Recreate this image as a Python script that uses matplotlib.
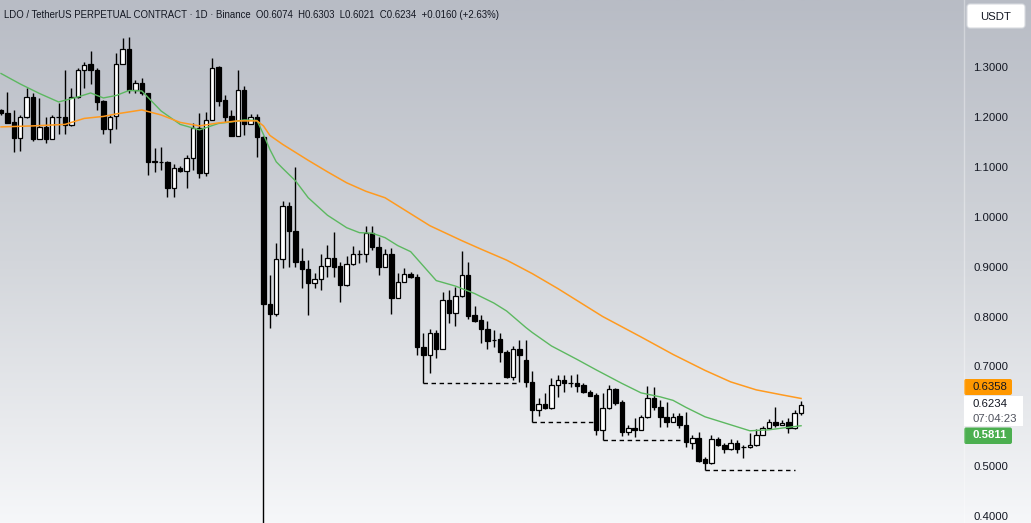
import numpy as np
import matplotlib.pyplot as plt
from matplotlib.colors import LinearSegmentedColormap
from matplotlib.patches import Rectangle, FancyBboxPatch

# Daily candles (USDT)
opens = [1.214, 1.207, 1.190, 1.158, 1.199, 1.239, 1.156, 1.180, 1.156, 1.199,
         1.199, 1.184, 1.239, 1.294, 1.306, 1.295, 1.232, 1.176, 1.202, 1.307,
         1.337, 1.253, 1.267, 1.247, 1.110, 1.109, 1.109, 1.058, 1.098, 1.092,
         1.117, 1.177, 1.087, 1.194, 1.301, 1.234, 1.202, 1.162, 1.254, 1.186,
         1.199, 1.160, 0.826, 0.806, 0.915, 1.021, 0.972, 0.911, 0.895, 0.867,
         0.875, 0.901, 0.917, 0.901, 0.863, 0.905, 0.925, 0.925, 0.968, 0.940,
         0.900, 0.925, 0.838, 0.870, 0.885, 0.880, 0.739, 0.723, 0.766, 0.735,
         0.834, 0.808, 0.841, 0.883, 0.803, 0.793, 0.774, 0.753, 0.754, 0.729,
         0.679, 0.734, 0.713, 0.669, 0.613, 0.625, 0.616, 0.663, 0.673, 0.666,
         0.666, 0.663, 0.648, 0.643, 0.573, 0.616, 0.654, 0.628, 0.569, 0.576,
         0.573, 0.598, 0.636, 0.619, 0.599, 0.589, 0.601, 0.583, 0.547, 0.556,
         0.514, 0.506, 0.554, 0.542, 0.534, 0.547, 0.538, 0.538, 0.542, 0.563,
         0.576, 0.589, 0.583, 0.589, 0.576, 0.6074]
highs = [1.216, 1.250, 1.214, 1.204, 1.257, 1.247, 1.237, 1.200, 1.204, 1.227,
         1.295, 1.257, 1.298, 1.311, 1.333, 1.299, 1.234, 1.204, 1.329, 1.358,
         1.360, 1.274, 1.277, 1.248, 1.137, 1.139, 1.112, 1.106, 1.102, 1.124,
         1.187, 1.208, 1.210, 1.319, 1.302, 1.244, 1.214, 1.294, 1.262, 1.206,
         1.206, 1.162, 0.883, 0.947, 1.032, 1.030, 1.099, 0.937, 0.913, 0.887,
         0.925, 0.943, 0.970, 0.910, 0.921, 0.941, 0.933, 0.981, 0.981, 0.959,
         0.935, 0.937, 0.887, 0.897, 0.889, 0.885, 0.766, 0.774, 0.773, 0.850,
         0.853, 0.860, 0.932, 0.910, 0.821, 0.803, 0.792, 0.773, 0.766, 0.733,
         0.741, 0.753, 0.753, 0.691, 0.636, 0.646, 0.676, 0.683, 0.683, 0.683,
         0.685, 0.666, 0.653, 0.647, 0.646, 0.663, 0.656, 0.633, 0.583, 0.596,
         0.603, 0.661, 0.659, 0.633, 0.629, 0.606, 0.607, 0.609, 0.563, 0.569,
         0.519, 0.563, 0.559, 0.547, 0.554, 0.553, 0.542, 0.567, 0.574, 0.581,
         0.595, 0.618, 0.593, 0.597, 0.613, 0.6303]
lows = [1.204, 1.188, 1.130, 1.132, 1.197, 1.152, 1.155, 1.148, 1.155, 1.166,
        1.166, 1.182, 1.238, 1.257, 1.265, 1.214, 1.166, 1.148, 1.176, 1.306,
        1.248, 1.248, 1.244, 1.084, 1.090, 1.094, 1.040, 1.040, 1.090, 1.058,
        1.094, 1.077, 1.082, 1.193, 1.222, 1.190, 1.161, 1.161, 1.164, 1.185,
        1.119, 0.370, 0.776, 0.801, 0.897, 0.899, 0.899, 0.857, 0.803, 0.857,
        0.853, 0.880, 0.880, 0.830, 0.862, 0.904, 0.908, 0.910, 0.933, 0.883,
        0.899, 0.806, 0.837, 0.869, 0.877, 0.723, 0.667, 0.686, 0.716, 0.734,
        0.788, 0.780, 0.840, 0.796, 0.789, 0.746, 0.734, 0.739, 0.709, 0.676,
        0.673, 0.669, 0.659, 0.588, 0.601, 0.615, 0.615, 0.639, 0.649, 0.658,
        0.649, 0.647, 0.640, 0.563, 0.553, 0.615, 0.623, 0.561, 0.563, 0.558,
        0.572, 0.597, 0.613, 0.578, 0.578, 0.588, 0.577, 0.539, 0.534, 0.508,
        0.492, 0.505, 0.540, 0.527, 0.533, 0.526, 0.516, 0.537, 0.541, 0.562,
        0.575, 0.579, 0.582, 0.566, 0.575, 0.6021]
closes = [1.207, 1.188, 1.158, 1.199, 1.239, 1.155, 1.180, 1.156, 1.199, 1.200,
          1.184, 1.239, 1.294, 1.305, 1.295, 1.230, 1.176, 1.199, 1.307, 1.337,
          1.253, 1.267, 1.247, 1.110, 1.111, 1.110, 1.058, 1.097, 1.092, 1.117,
          1.177, 1.087, 1.194, 1.299, 1.232, 1.200, 1.162, 1.254, 1.186, 1.199,
          1.160, 0.826, 0.805, 0.915, 1.021, 0.972, 0.910, 0.895, 0.867, 0.875,
          0.901, 0.917, 0.900, 0.863, 0.905, 0.925, 0.926, 0.968, 0.940, 0.900,
          0.925, 0.838, 0.870, 0.885, 0.880, 0.739, 0.723, 0.766, 0.735, 0.834,
          0.808, 0.841, 0.883, 0.801, 0.792, 0.774, 0.750, 0.752, 0.729, 0.679,
          0.734, 0.723, 0.669, 0.613, 0.625, 0.616, 0.663, 0.673, 0.666, 0.667,
          0.661, 0.648, 0.641, 0.573, 0.616, 0.654, 0.627, 0.569, 0.576, 0.573,
          0.598, 0.636, 0.619, 0.599, 0.589, 0.599, 0.583, 0.549, 0.556, 0.511,
          0.506, 0.554, 0.542, 0.534, 0.546, 0.535, 0.539, 0.542, 0.563, 0.576,
          0.589, 0.583, 0.587, 0.576, 0.6074, 0.6234]

# moving averages, sampled at some candles
fast_idx = [0, 3, 6, 9, 12, 14, 16, 18, 20, 22, 25, 28, 31, 34, 36, 38, 40, 41, 42, 43,
            44, 46, 48, 51, 54, 56, 58, 60, 62, 64, 66, 68, 71, 74, 77, 79, 82, 83, 86, 90,
            93, 97, 100, 103, 105, 107, 110, 113, 117, 120, 123, 125]
fast_ma = [1.287, 1.266, 1.247, 1.230, 1.240, 1.248, 1.238, 1.243, 1.253, 1.252,
           1.212, 1.185, 1.174, 1.187, 1.190, 1.194, 1.193, 1.165, 1.135, 1.110,
           1.097, 1.072, 1.038, 1.003, 0.978, 0.968, 0.967, 0.958, 0.942, 0.930,
           0.901, 0.872, 0.861, 0.846, 0.827, 0.811, 0.778, 0.768, 0.741, 0.714,
           0.693, 0.666, 0.647, 0.639, 0.632, 0.618, 0.599, 0.587, 0.571, 0.573,
           0.578, 0.5811]
slow_idx = [0, 5, 10, 13, 16, 18, 22, 25, 28, 31, 34, 37, 40, 41, 42, 44, 48, 51, 54, 57,
            60, 62, 67, 72, 75, 79, 83, 87, 94, 100, 105, 110, 114, 118, 122, 125]
slow_ma = [1.180, 1.182, 1.185, 1.197, 1.201, 1.206, 1.214, 1.204, 1.189, 1.182,
           1.188, 1.192, 1.192, 1.182, 1.163, 1.145, 1.113, 1.090, 1.068, 1.051,
           1.038, 1.022, 0.982, 0.952, 0.935, 0.913, 0.886, 0.856, 0.800, 0.759,
           0.724, 0.692, 0.669, 0.653, 0.643, 0.6358]

# support levels drawn from a candle low to a later candle
level_start = [66, 83, 94, 110]
level_end = [81, 93, 107, 124]

y_ticks = [0.4, 0.5, 0.7, 0.8, 0.9, 1.0, 1.1, 1.2, 1.3]
timer_text = "07:04:23"

W, H = 1031, 523
FONT = "Liberation Sans"
TXT = "#131722"
fig = plt.figure(figsize=(W / 100, H / 100), dpi=100)

# background gradient
bg = fig.add_axes([0, 0, 1, 1], zorder=0)
cmap = LinearSegmentedColormap.from_list("bg", ["#b8bcc5", "#d3d6db", "#f6f7f9"])
bg.imshow(np.linspace(0, 1, 256)[:, None], aspect="auto", cmap=cmap, extent=[0, 1, 0, 1])
bg.axis("off")

# main price axes
ax = fig.add_axes([0, 0, 963 / W, 1], zorder=1)
ax.patch.set_alpha(0)
o, h, l, c = map(np.array, (opens, highs, lows, closes))
x = np.arange(len(o))
up = c >= o
ax.vlines(x, l, h, color="black", lw=1, zorder=3)
body = np.maximum(np.abs(c - o), 0.0012)
bottom = np.minimum(o, c)
ax.bar(x[up], body[up], bottom=bottom[up], width=0.7, color="white",
       edgecolor="black", lw=0.9, zorder=4)
ax.bar(x[~up], body[~up], bottom=bottom[~up], width=0.7, color="black",
       edgecolor="black", lw=0.9, zorder=4)

ax.plot(fast_idx, fast_ma, color="#5cb860", lw=1.0, zorder=5)
ax.plot(slow_idx, slow_ma, color="#ff9a1f", lw=1.1, zorder=5)

for s, e in zip(level_start, level_end):
    ax.hlines(l[s], s, e, color="black", lw=1, linestyles=(0, (3.2, 2.6)), zorder=2)

ax.set_xlim(-0.16, 150.3)
ax.set_ylim(0.3862, 1.4343)
ax.set_xticks([])
ax.yaxis.tick_right()
ax.set_yticks(y_ticks)
ax.set_yticklabels([f"{v:.4f}" for v in y_ticks], fontfamily=FONT)
ax.tick_params(axis="y", length=0, pad=7.5, labelsize=8.2, labelcolor=TXT)
for sp in ax.spines.values():
    sp.set_visible(False)

# overlay in pixel coordinates for header and price labels
ov = fig.add_axes([0, 0, 1, 1], zorder=6)
ov.set_xlim(0, W)
ov.set_ylim(H, 0)
ov.axis("off")
ov.plot([963.5, 963.5], [0, H], color="white", alpha=0.35, lw=1)

chg = closes[-1] - closes[-2]
pct = chg / closes[-2] * 100
header = (f"LDO / TetherUS PERPETUAL CONTRACT · 1D · Binance  "
          f"O{opens[-1]:.4f}  H{highs[-1]:.4f}  L{lows[-1]:.4f}  C{closes[-1]:.4f}  "
          f"{chg:+.4f} ({pct:+.2f}%)")
ov.text(4, 15, header, fontsize=6.95, family=FONT, color=TXT, va="center", ha="left")

ov.add_patch(FancyBboxPatch((967, 4), 58, 24, boxstyle="round,pad=0,rounding_size=3",
                            fc="white", ec="#d8dbe0", lw=0.8))
ov.text(996, 16.5, "USDT", fontsize=8.2, family=FONT, color=TXT, ha="center", va="center")

ov.add_patch(FancyBboxPatch((964, 379), 48, 16, boxstyle="round,pad=0,rounding_size=2",
                            fc="#ff9800", ec="none"))
ov.text(972.5, 387, f"{slow_ma[-1]:.4f}", fontsize=8.2, family=FONT, color=TXT, va="center")
ov.add_patch(Rectangle((964, 396), 59, 30, fc="white", ec="none"))
ov.text(972.5, 404, f"{closes[-1]:.4f}", fontsize=8.2, family=FONT, color=TXT, va="center")
ov.text(972.5, 418.5, timer_text, fontsize=8.2, family=FONT, color="#50535e", va="center")
ov.add_patch(FancyBboxPatch((964, 427.5), 48, 16.5, boxstyle="round,pad=0,rounding_size=2",
                            fc="#4caf50", ec="none"))
ov.text(972.5, 435.5, f"{fast_ma[-1]:.4f}", fontsize=8.2, family=FONT, color="white",
        va="center", fontweight="bold")

fig.savefig("out.png", dpi=100)
